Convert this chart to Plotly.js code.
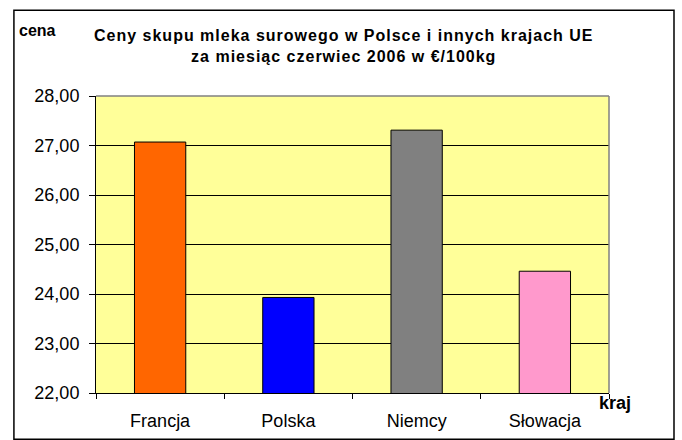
<!DOCTYPE html>
<html>
<head>
<meta charset="utf-8">
<script src="https://cdn.plot.ly/plotly-3.0.1.min.js"></script>
<style>
  body { margin: 0; background: #fff; }
  #chart { width: 682px; height: 440px; }
  .gtitle { letter-spacing: 1px; }
</style>
</head>
<body>
<div id="chart"></div>
<script>
const countries = ['Francja', 'Polska', 'Niemcy', 'Słowacja'];
const prices = [27.07, 23.93, 27.31, 24.46];
const barColors = ['#FF6600', '#0000FF', '#808080', '#FF99CC'];
const yTicks = [22, 23, 24, 25, 26, 27, 28];
const yTickLabels = ['22,00', '23,00', '24,00', '25,00', '26,00', '27,00', '28,00'];

const font = 'Liberation Sans, Arial, sans-serif';

const traces = [{
    type: 'bar',
    x: countries,
    y: prices,
    marker: { color: barColors, line: { color: '#000', width: 1 } },
    hoverinfo: 'x+y',
    showlegend: false,
}];

Plotly.newPlot('chart', traces, {
    width: 682,
    height: 440,
    margin: { l: 96, r: 73, t: 96, b: 47 },
    paper_bgcolor: '#fff',
    plot_bgcolor: '#FFFF99',
    bargap: 0.6,
    font: { family: font, color: '#000' },
    title: {
        text: 'Ceny skupu mleka surowego w Polsce i innych krajach UE<br>za miesiąc czerwiec 2006 w €/100kg',
        font: { family: font, size: 16, weight: 'bold', color: '#000' },
        x: 0.504, xref: 'container', xanchor: 'center',
        y: 0.906, yref: 'container', yanchor: 'middle',
    },
    xaxis: {
        type: 'category',
        showline: true, linecolor: '#000', linewidth: 1,
        ticks: 'outside', tickson: 'boundaries', ticklen: 5, tickcolor: '#000',
        tickfont: { size: 18 },
        ticklabelstandoff: 11,
        showgrid: false,
        fixedrange: true,
    },
    yaxis: {
        range: [22, 28],
        tickvals: yTicks,
        ticktext: yTickLabels,
        showline: true, linecolor: '#000', linewidth: 1,
        ticks: 'outside', ticklen: 6, tickcolor: '#000',
        tickfont: { size: 18 },
        ticklabelstandoff: 6,
        showgrid: true, gridcolor: '#000', gridwidth: 1,
        zeroline: false,
        fixedrange: true,
    },
    shapes: [
        // grey plot-area border on the top and right
        { type: 'line', xref: 'paper', yref: 'paper', x0: 0, x1: 1, y0: 1, y1: 1, line: { color: '#808080', width: 1.5 }, layer: 'above' },
        { type: 'line', xref: 'paper', yref: 'paper', x0: 1, x1: 1, y0: 0, y1: 1, line: { color: '#808080', width: 1.5 }, layer: 'above' },
        // outer frame of the chart
        { type: 'rect', xref: 'paper', yref: 'paper', x0: -0.16, x1: 1.1267, y0: -0.156, y1: 1.2886, line: { color: '#000', width: 1.5 }, layer: 'above' },
    ],
    annotations: [
        { text: 'cena', xref: 'paper', yref: 'paper', x: -0.114, y: 1.2212, showarrow: false,
          font: { size: 16, weight: 'bold' }, xanchor: 'center', yanchor: 'middle' },
        { text: 'kraj', xref: 'paper', yref: 'paper', x: 1.0117, y: -0.0347, showarrow: false,
          font: { size: 18, weight: 'bold' }, xanchor: 'center', yanchor: 'middle' },
    ],
}, {
    displayModeBar: false,
    responsive: false,
});
</script>
</body>
</html>
